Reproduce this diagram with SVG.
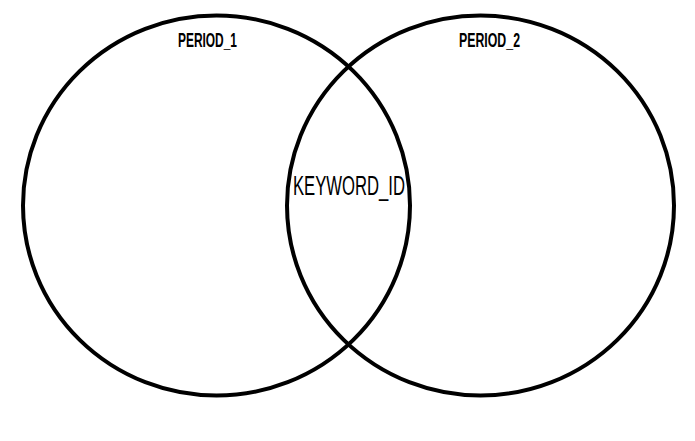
<svg xmlns="http://www.w3.org/2000/svg" width="695" height="441" viewBox="0 0 695 441">
<style>
.c{fill:none;stroke:#000;stroke-width:4}
.t{font-family:"Liberation Sans Narrow","Liberation Sans",sans-serif;font-stretch:condensed;fill:#000}
.b{font-weight:bold;font-size:20px}
.k{font-size:27px}
</style>
<rect width="695" height="441" fill="#fff"/>
<g id="period_1">
<ellipse class="c" cx="216.5" cy="205.5" rx="193.5" ry="190"/>
<text class="t b" x="178" y="47" textLength="59" lengthAdjust="spacingAndGlyphs">PERIOD_1</text>
</g>
<g id="period_2">
<ellipse class="c" cx="480.5" cy="205.5" rx="193.5" ry="190"/>
<text class="t b" x="459" y="47" textLength="61" lengthAdjust="spacingAndGlyphs">PERIOD_2</text>
</g>
<g id="keyword_id">
<text class="t k" x="293" y="195" textLength="112" lengthAdjust="spacingAndGlyphs">KEYWORD_ID</text>
</g>
</svg>
